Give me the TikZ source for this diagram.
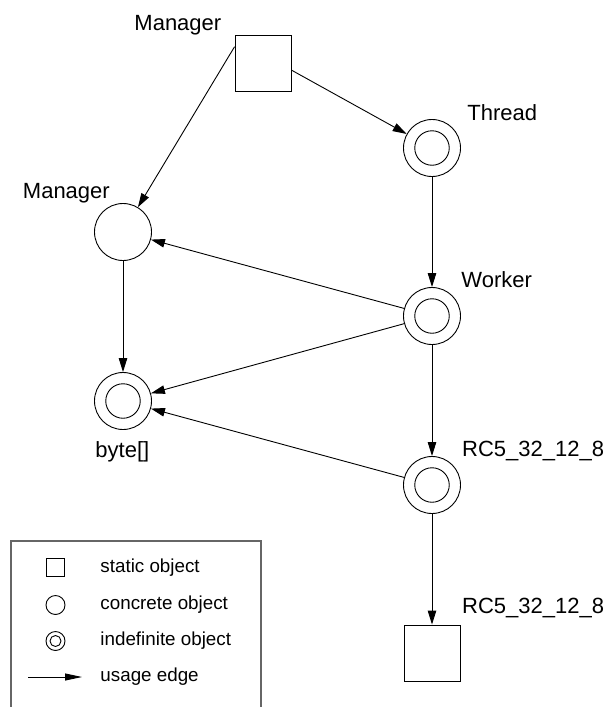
\documentclass[tikz,border=0pt]{standalone}
\usepackage{fontspec}
\setmainfont{Liberation Sans}
\usetikzlibrary{arrows.meta,calc}
\begin{document}
\begin{tikzpicture}[x=1pt,y=-1pt,
  line width=0.9pt,
  statobj/.style={draw, minimum size=56pt, inner sep=0pt, shape=rectangle},
  outerc/.style={draw, circle, minimum size=57pt, inner sep=0pt},
  innerc/.style={draw, circle, minimum size=34.5pt, inner sep=0pt},
  lbl/.style={font=\fontsize{22pt}{24pt}\selectfont, anchor=base west, inner sep=0pt},
  legtxt/.style={font=\fontsize{18.8pt}{21pt}\selectfont, anchor=west, inner sep=0pt},
  usage/.style={-{Triangle[length=14pt,width=8.5pt]}},
]
\useasboundingbox (0,0) rectangle (605,707);
% nodes
\node[statobj] (topsq) at (263,63) {};
\node[outerc] (mgrc) at (123,232) {};
\node[outerc] (thr) at (432,148) {};
\node[innerc] (thri) at (432,148) {};
\node[outerc] (wrk) at (432,316) {};
\node[innerc] (wrki) at (432,316) {};
\node[outerc] (rc) at (432,485) {};
\node[innerc] (rci) at (432,485) {};
\node[outerc] (byt) at (123,401) {};
\node[innerc] (byti) at (123,401) {};
\node[statobj] (botsq) at (432,653) {};
% labels
\node[lbl] (l1) at (134,30) {Manager};
\node[lbl] (l2) at (467,120) {Thread};
\node[lbl] (l3) at (22.5,198.3) {Manager};
\node[lbl] (l4) at (461,287.3) {Worker};
\node[lbl] (l5) at (95,457.3) {byte[]};
\node[lbl] (l6) at (461.7,456.7) {RC5\_32\_12\_8};
\node[lbl] (l7) at (461.7,613.3) {RC5\_32\_12\_8};
% edges
\coordinate (s1) at ($(topsq.north west)!0.214!(topsq.south west)$);
\coordinate (s2) at ($(topsq.north east)!0.625!(topsq.south east)$);
\draw[usage] (s1) -- (mgrc);
\draw[usage] (s2) -- (thr);
\draw[usage] (thr) -- (wrk);
\draw[usage] (wrk) -- (rc);
\draw[usage] (rc) -- (botsq);
\draw[usage] (mgrc) -- (byt);
\draw[usage] (wrk) -- (mgrc);
\draw[usage] (wrk) -- (byt);
\draw[usage] (rc) -- (byt);
% legend
\draw[line width=1.4pt, gray!80!black] (11,710) -- (11,541) -- (261,541) -- (261,710);
\node[draw, minimum size=18pt, inner sep=0pt] (lsq) at (55.5,567.5) {};
\node[draw, circle, minimum size=19pt, inner sep=0pt] (lc) at (55.5,605) {};
\node[draw, circle, minimum size=19pt, inner sep=0pt] (ld) at (55.5,641) {};
\node[draw, circle, minimum size=11pt, inner sep=0pt] (ldi) at (55.5,641) {};
\coordinate (la1) at (28,677);
\coordinate (la2) at (82,677);
\draw[-{Triangle[length=17pt,width=7pt]}] (la1) -- (la2);
\node[legtxt] (t1) at (100,567.5) {static object};
\node[legtxt] (t2) at (100,605) {concrete object};
\node[legtxt] (t3) at (100,641) {indefinite object};
\node[legtxt] (t4) at (100,677) {usage edge};
\end{tikzpicture}
\end{document}
